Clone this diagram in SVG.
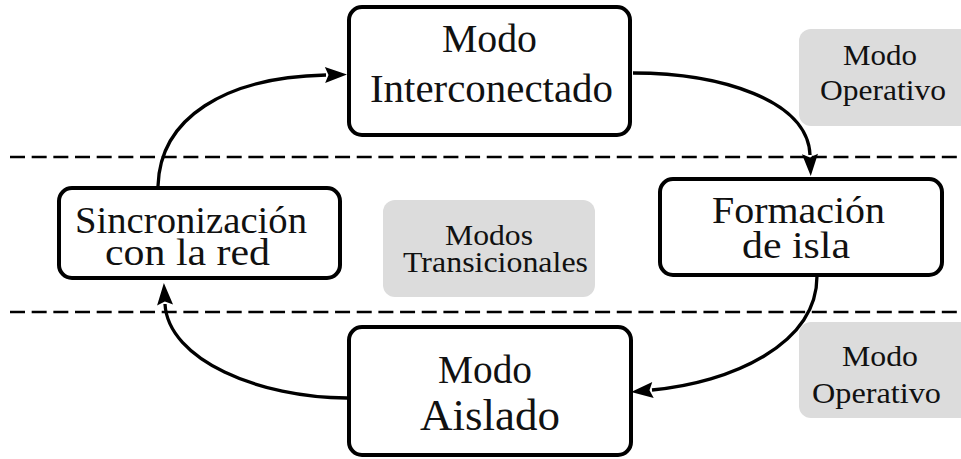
<svg xmlns="http://www.w3.org/2000/svg" width="961" height="459" viewBox="0 0 961 459">
  <defs>
    <marker id="head" markerUnits="userSpaceOnUse" viewBox="0 -8 24 16" markerWidth="24" markerHeight="16" refX="1" refY="0" orient="auto" overflow="visible">
      <path d="M0,-8 L22,0 L0,8 L3.5,0 Z" fill="#000"/>
    </marker>
    <style>
      .node { fill: #fff; stroke: #000; stroke-width: 4; }
      .tag { fill: #dcdcdc; stroke: none; }
      .sep { stroke: #000; stroke-width: 2.5; stroke-dasharray: 15 6.67; fill: none; }
      .link { fill: none; stroke: #000; stroke-width: 3.3; marker-end: url(#head); }
      text { font-family: "Liberation Serif", "Times New Roman", serif; fill: #111; text-anchor: middle; }
      .big { font-size: 40px; }
      .mid { font-size: 38px; }
      .small { font-size: 30px; }
    </style>
  </defs>

  <!-- mode separators -->
  <g id="separators">
    <line class="sep" x1="10" y1="157" x2="961" y2="157"/>
    <line class="sep" x1="10" y1="312" x2="961" y2="312"/>
  </g>

  <!-- grey category labels -->
  <g id="label-operativo-top">
    <rect class="tag" x="799" y="29" width="175" height="97" rx="12"/>
    <text class="small" x="880" y="65" textLength="74" lengthAdjust="spacingAndGlyphs">Modo</text>
    <text class="small" x="883" y="100" textLength="126" lengthAdjust="spacingAndGlyphs">Operativo</text>
  </g>
  <g id="label-transicionales">
    <rect class="tag" x="383" y="200" width="212" height="97" rx="12"/>
    <text class="small" x="489" y="245" textLength="88" lengthAdjust="spacingAndGlyphs">Modos</text>
    <text class="small" x="495.5" y="272" textLength="185" lengthAdjust="spacingAndGlyphs">Transicionales</text>
  </g>
  <g id="label-operativo-bottom">
    <rect class="tag" x="799" y="322" width="175" height="96" rx="12"/>
    <text class="small" x="880" y="366" textLength="76" lengthAdjust="spacingAndGlyphs">Modo</text>
    <text class="small" x="876.5" y="403" textLength="129" lengthAdjust="spacingAndGlyphs">Operativo</text>
  </g>

  <!-- connectors -->
  <g id="connectors">
    <path class="link" d="M158,186 C160,118 225,77 326,75"/>
    <path class="link" d="M633,73 C720,73 808,100 810,155"/>
    <path class="link" d="M817,276 C817,345 730,383 652,390"/>
    <path class="link" d="M347,398 C260,398 168,360 165,304"/>
  </g>

  <!-- mode nodes -->
  <g id="node-interconectado">
    <rect class="node" x="349" y="7" width="281" height="128" rx="13"/>
    <text class="big" x="489.5" y="52" textLength="95" lengthAdjust="spacingAndGlyphs">Modo</text>
    <text class="big" x="491.5" y="102" textLength="243" lengthAdjust="spacingAndGlyphs">Interconectado</text>
  </g>
  <g id="node-formacion">
    <rect class="node" x="660" y="179" width="282" height="96" rx="13"/>
    <text class="mid" x="798.5" y="223" textLength="173" lengthAdjust="spacingAndGlyphs">Formación</text>
    <text class="mid" x="796" y="258" textLength="108" lengthAdjust="spacingAndGlyphs">de isla</text>
  </g>
  <g id="node-aislado">
    <rect class="node" x="349" y="327" width="282" height="128" rx="13"/>
    <text class="big" x="485" y="383" textLength="94" lengthAdjust="spacingAndGlyphs">Modo</text>
    <text x="490" y="430" font-size="45" textLength="140" lengthAdjust="spacingAndGlyphs">Aislado</text>
  </g>
  <g id="node-sincronizacion">
    <rect class="node" x="59" y="188" width="281" height="90" rx="13"/>
    <text class="mid" x="191" y="233" textLength="232" lengthAdjust="spacingAndGlyphs">Sincronización</text>
    <text class="mid" x="187.5" y="265" textLength="165" lengthAdjust="spacingAndGlyphs">con la red</text>
  </g>
</svg>
